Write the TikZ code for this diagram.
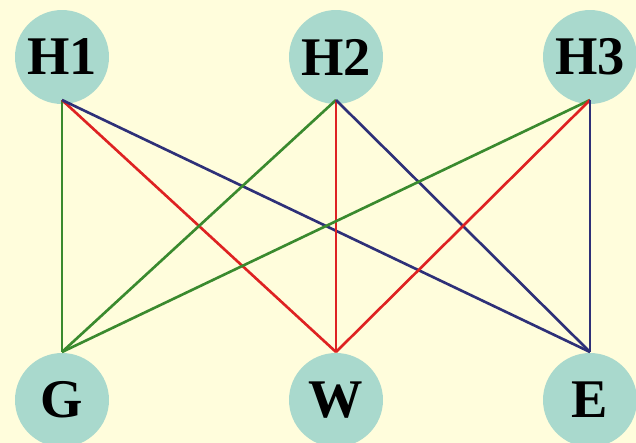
\documentclass[tikz,border=0pt]{standalone}
\usepackage{fontspec}
\setmainfont{Liberation Serif}
\definecolor{bgyellow}{HTML}{FFFDDC}
\definecolor{disc}{HTML}{A9D9CD}
\definecolor{lgreen}{HTML}{3A8A2E}
\definecolor{lred}{HTML}{DE2222}
\definecolor{lblue}{HTML}{2E3078}
\tikzset{
  ball/.style={circle, fill=disc, minimum size=1.88cm, inner sep=0pt, font=\bfseries\fontsize{31}{31}\selectfont},
  wire/.style={line width=1.5pt}
}
\begin{document}
\begin{tikzpicture}[x=0.02cm, y=-0.02cm]
    \fill [bgyellow] (0,0) rectangle (636,443) ;
    \useasboundingbox (0,0) rectangle (636,443) ;

    \node [ball] (h1) at (62,57) {H1} ;
    \node [ball] (h2) at (336,57) {H2} ;
    \node [ball] (h3) at (590,57) {H3} ;
    \node [ball] (g) at (62,400) {G} ;
    \node [ball] (w) at (336,400) {W} ;
    \node [ball] (e) at (590,400) {E} ;

    \coordinate (h1b) at (62,100) ;
    \coordinate (h2b) at (336,100) ;
    \coordinate (h3b) at (590,100) ;
    \coordinate (gt) at (62,352) ;
    \coordinate (wt) at (336,352) ;
    \coordinate (et) at (590,352) ;

    \foreach \h in {h1b,h2b,h3b} {
        \draw [wire, lgreen] (\h) -- (gt) ;
        \draw [wire, lred] (\h) -- (wt) ;
        \draw [wire, lblue] (\h) -- (et) ;
    }
\end{tikzpicture}
\end{document}
